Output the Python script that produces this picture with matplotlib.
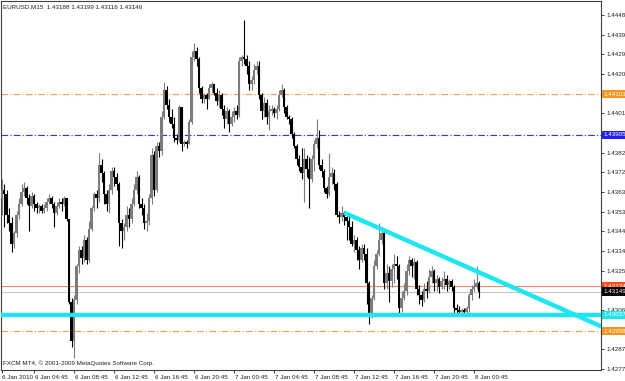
import numpy as np
import pandas as pd
import matplotlib
matplotlib.use("Agg")
import matplotlib.pyplot as plt
from matplotlib import transforms

# EURUSD M15 bars, 6 Jan 2010 01:30 -> 8 Jan 2010 01:15
opens = [
    1.4360, 1.4364, 1.4362, 1.4352, 1.4348, 1.4338, 1.4343, 1.4352, 1.4357, 1.4363,
    1.4365, 1.4360, 1.4356, 1.4361, 1.4357, 1.4355, 1.4356, 1.4354, 1.4355, 1.4358,
    1.4360, 1.4357, 1.4353, 1.4356, 1.4358, 1.4357, 1.4360, 1.4350, 1.4310, 1.4291,
    1.4311, 1.4327, 1.4335, 1.4331, 1.4340, 1.4330, 1.4345, 1.4355, 1.4362, 1.4360,
    1.4376, 1.4372, 1.4362, 1.4357, 1.4364, 1.4373, 1.4370, 1.4367, 1.4348, 1.4344,
    1.4346, 1.4352, 1.4350, 1.4357, 1.4364, 1.4370, 1.4357, 1.4355, 1.4348, 1.4349,
    1.4360, 1.4381, 1.4364, 1.4385, 1.4383, 1.4399, 1.4412, 1.4405, 1.4399, 1.4396,
    1.4389, 1.4388, 1.4404, 1.4386, 1.4387, 1.4386, 1.4397, 1.4428, 1.4431, 1.4427,
    1.4413, 1.4408, 1.4410, 1.4408, 1.4413, 1.4415, 1.4411, 1.4407, 1.4410, 1.4403,
    1.4398, 1.4402, 1.4396, 1.4399, 1.4402, 1.4400, 1.4426, 1.4428, 1.4427, 1.4424,
    1.4415, 1.4417, 1.4422, 1.4424, 1.4410, 1.4402, 1.4406, 1.4399, 1.4402, 1.4403,
    1.4401, 1.4403, 1.4410, 1.4412, 1.4404, 1.4399, 1.4398, 1.4391, 1.4385, 1.4379,
    1.4375, 1.4372, 1.4379, 1.4374, 1.4369, 1.4379, 1.4386, 1.4389, 1.4376, 1.4373,
    1.4365, 1.4362, 1.4370, 1.4372, 1.4367, 1.4352, 1.4351, 1.4353, 1.4351, 1.4349,
    1.4346, 1.4338, 1.4340, 1.4335, 1.4330, 1.4336, 1.4333, 1.4319, 1.4304, 1.4312,
    1.4327, 1.4333, 1.4340, 1.4343, 1.4319, 1.4324, 1.4320, 1.4326, 1.4328, 1.4327,
    1.4307, 1.4312, 1.4315, 1.4325, 1.4330, 1.4327, 1.4329, 1.4316, 1.4313, 1.4311,
    1.4316, 1.4315, 1.4322, 1.4325, 1.4319, 1.4321, 1.4317, 1.4320, 1.4321, 1.4318,
    1.4320, 1.4317, 1.4307, 1.4306, 1.4305, 1.4306, 1.4305, 1.4307, 1.4313, 1.4316,
    1.4317, 1.43188,
]
highs = [
    1.4369, 1.4367, 1.4364, 1.4355, 1.4351, 1.4344, 1.4354, 1.4360, 1.4367, 1.4368,
    1.4366, 1.4362, 1.4363, 1.4362, 1.4358, 1.4357, 1.4357, 1.4357, 1.4360, 1.4362,
    1.4361, 1.4358, 1.4358, 1.4360, 1.4360, 1.4361, 1.4359, 1.4350, 1.4312, 1.4313,
    1.4328, 1.4337, 1.4337, 1.4342, 1.4341, 1.4349, 1.4356, 1.4363, 1.4364, 1.4382,
    1.4379, 1.4373, 1.4364, 1.4367, 1.4375, 1.4375, 1.4372, 1.4368, 1.4350, 1.4348,
    1.4356, 1.4355, 1.4360, 1.4367, 1.4373, 1.4371, 1.4360, 1.4357, 1.4353, 1.4362,
    1.4384, 1.4383, 1.4387, 1.4387, 1.4402, 1.4416, 1.4414, 1.4408, 1.4403, 1.4399,
    1.4391, 1.4405, 1.4404, 1.4388, 1.4388, 1.4398, 1.4431, 1.4435, 1.4433, 1.4428,
    1.4414, 1.4411, 1.4411, 1.4415, 1.4416, 1.4415, 1.4413, 1.4412, 1.4411, 1.4405,
    1.4404, 1.4403, 1.4402, 1.4404, 1.4405, 1.4428, 1.4429, 1.4446, 1.4429, 1.4426,
    1.4419, 1.4425, 1.4426, 1.4426, 1.4411, 1.4409, 1.4408, 1.4405, 1.4405, 1.4404,
    1.4405, 1.4412, 1.4415, 1.4413, 1.4405, 1.4400, 1.4399, 1.4392, 1.4386, 1.4381,
    1.4384, 1.4384, 1.4381, 1.4380, 1.4381, 1.4388, 1.4398, 1.4393, 1.4379, 1.4374,
    1.4366, 1.4382, 1.4375, 1.4374, 1.4368, 1.4354, 1.4356, 1.4354, 1.4353, 1.4352,
    1.4349, 1.4342, 1.4341, 1.4337, 1.4338, 1.4338, 1.4336, 1.4320, 1.4313, 1.4330,
    1.4335, 1.4348, 1.4346, 1.4344, 1.4328, 1.4327, 1.4328, 1.4333, 1.4332, 1.4328,
    1.4315, 1.4319, 1.4328, 1.4332, 1.4331, 1.4331, 1.4330, 1.4318, 1.4315, 1.4319,
    1.4320, 1.4326, 1.4327, 1.4326, 1.4323, 1.4322, 1.4322, 1.4325, 1.4323, 1.4321,
    1.4321, 1.4318, 1.4309, 1.4308, 1.4307, 1.4307, 1.4308, 1.4314, 1.4318, 1.4321,
    1.4327, 1.43199,
]
lows = [
    1.4352, 1.4346, 1.4348, 1.4344, 1.4334, 1.4336, 1.4341, 1.4350, 1.4356, 1.4361,
    1.4357, 1.4344, 1.4355, 1.4354, 1.4353, 1.4353, 1.4353, 1.4353, 1.4354, 1.4357,
    1.4355, 1.4346, 1.4352, 1.4355, 1.4354, 1.4356, 1.4349, 1.4309, 1.4288, 1.4283,
    1.4309, 1.4324, 1.4328, 1.4329, 1.4328, 1.4329, 1.4344, 1.4354, 1.4355, 1.4358,
    1.4368, 1.4357, 1.4354, 1.4353, 1.4362, 1.4366, 1.4364, 1.4337, 1.4336, 1.4340,
    1.4344, 1.4346, 1.4348, 1.4356, 1.4362, 1.4355, 1.4352, 1.4345, 1.4344, 1.4347,
    1.4357, 1.4361, 1.4363, 1.4380, 1.4381, 1.4398, 1.4403, 1.4397, 1.4394, 1.4387,
    1.4386, 1.4387, 1.4383, 1.4385, 1.4384, 1.4386, 1.4396, 1.4426, 1.4424, 1.4411,
    1.4406, 1.4406, 1.4403, 1.4408, 1.4411, 1.4410, 1.4405, 1.4404, 1.4400, 1.4394,
    1.4396, 1.4392, 1.4395, 1.4397, 1.4398, 1.4399, 1.4424, 1.4425, 1.4420, 1.4412,
    1.4412, 1.4415, 1.4420, 1.4408, 1.4398, 1.4399, 1.4396, 1.4393, 1.4400, 1.4399,
    1.4398, 1.4402, 1.4409, 1.4401, 1.4398, 1.4396, 1.4389, 1.4384, 1.4376, 1.4373,
    1.4369, 1.4358, 1.4370, 1.4355, 1.4368, 1.4373, 1.4384, 1.4374, 1.4370, 1.4363,
    1.4360, 1.4361, 1.4367, 1.4364, 1.4351, 1.4348, 1.4349, 1.4347, 1.4340, 1.4340,
    1.4337, 1.4334, 1.4330, 1.4326, 1.4329, 1.4330, 1.4309, 1.4299, 1.4302, 1.4311,
    1.4326, 1.4332, 1.4338, 1.4316, 1.4316, 1.4310, 1.4317, 1.4319, 1.4321, 1.4304,
    1.4305, 1.4311, 1.4313, 1.4323, 1.4322, 1.4321, 1.4313, 1.4309, 1.4308, 1.4310,
    1.4312, 1.4314, 1.4319, 1.4315, 1.4315, 1.4314, 1.4316, 1.4316, 1.4315, 1.4316,
    1.4315, 1.4304, 1.4304, 1.4304, 1.4304, 1.4304, 1.4304, 1.4305, 1.4311, 1.4315,
    1.4316, 1.43116,
]
closes = [
    1.4364, 1.4362, 1.4352, 1.4348, 1.4338, 1.4343, 1.4352, 1.4357, 1.4363, 1.4365,
    1.4360, 1.4356, 1.4361, 1.4357, 1.4355, 1.4356, 1.4354, 1.4355, 1.4358, 1.4360,
    1.4357, 1.4353, 1.4356, 1.4358, 1.4357, 1.4360, 1.4350, 1.4310, 1.4291, 1.4311,
    1.4327, 1.4335, 1.4331, 1.4340, 1.4330, 1.4345, 1.4355, 1.4362, 1.4360, 1.4376,
    1.4372, 1.4362, 1.4357, 1.4364, 1.4373, 1.4370, 1.4367, 1.4348, 1.4344, 1.4346,
    1.4352, 1.4350, 1.4357, 1.4364, 1.4370, 1.4357, 1.4355, 1.4348, 1.4349, 1.4360,
    1.4381, 1.4364, 1.4385, 1.4383, 1.4399, 1.4412, 1.4405, 1.4399, 1.4396, 1.4389,
    1.4388, 1.4404, 1.4386, 1.4387, 1.4386, 1.4397, 1.4428, 1.4431, 1.4427, 1.4413,
    1.4408, 1.4410, 1.4408, 1.4413, 1.4415, 1.4411, 1.4407, 1.4410, 1.4403, 1.4398,
    1.4402, 1.4396, 1.4399, 1.4402, 1.4400, 1.4426, 1.4428, 1.4427, 1.4424, 1.4415,
    1.4417, 1.4422, 1.4424, 1.4410, 1.4402, 1.4406, 1.4399, 1.4402, 1.4403, 1.4401,
    1.4403, 1.4410, 1.4412, 1.4404, 1.4399, 1.4398, 1.4391, 1.4385, 1.4379, 1.4375,
    1.4372, 1.4379, 1.4374, 1.4369, 1.4379, 1.4386, 1.4389, 1.4376, 1.4373, 1.4365,
    1.4362, 1.4370, 1.4372, 1.4367, 1.4352, 1.4351, 1.4353, 1.4351, 1.4349, 1.4346,
    1.4338, 1.4340, 1.4335, 1.4330, 1.4336, 1.4333, 1.4319, 1.4304, 1.4312, 1.4327,
    1.4333, 1.4340, 1.4343, 1.4319, 1.4324, 1.4320, 1.4326, 1.4328, 1.4327, 1.4307,
    1.4312, 1.4315, 1.4325, 1.4330, 1.4327, 1.4329, 1.4316, 1.4313, 1.4311, 1.4316,
    1.4315, 1.4322, 1.4325, 1.4319, 1.4321, 1.4317, 1.4320, 1.4321, 1.4318, 1.4320,
    1.4317, 1.4307, 1.4306, 1.4305, 1.4306, 1.4305, 1.4307, 1.4313, 1.4316, 1.4317,
    1.43188, 1.43149,
]

first_bar = "2010-01-06 01:30"
tick_times = ["2010-01-06 01:30", "2010-01-06 04:45", "2010-01-06 08:45", "2010-01-06 12:45",
              "2010-01-06 16:45", "2010-01-06 20:45", "2010-01-07 00:45", "2010-01-07 04:45",
              "2010-01-07 08:45", "2010-01-07 12:45", "2010-01-07 16:45", "2010-01-07 20:45",
              "2010-01-08 00:45"]
tick_labels = ["6 Jan 2010", "6 Jan 04:45", "6 Jan 08:45", "6 Jan 12:45", "6 Jan 16:45",
               "6 Jan 20:45", "7 Jan 00:45", "7 Jan 04:45", "7 Jan 08:45", "7 Jan 12:45",
               "7 Jan 16:45", "7 Jan 20:45", "8 Jan 00:45"]

price_ticks = [1.44485, 1.44390, 1.44295, 1.44200, 1.44105, 1.44010, 1.43915, 1.43820,
               1.43725, 1.43630, 1.43535, 1.43440, 1.43345, 1.43250, 1.43155, 1.43060,
               1.42965, 1.42870, 1.42775]

# horizontal levels drawn on the chart
upper_orange = 1.44101
blue_level = 1.43905
red_level = 1.43174
bid = 1.43149
support = 1.43037
lower_orange = 1.42958
# trendline anchors (bar time, price)
trend_times = ["2010-01-07 11:45", "2010-01-08 13:30"]
trend_prices = [1.4353, 1.4298]

plt.rcParams['font.family'] = ['Liberation Sans Narrow', 'Liberation Sans', 'DejaVu Sans']
FS = 4.5

W, H = 625, 381
fig = plt.figure(figsize=(W / 100, H / 100), dpi=100)
ax = fig.add_axes([1 / W, 11 / H, 600 / W, 369 / H])

o = np.array(opens)
hi = np.array(highs)
lo = np.array(lows)
c = np.array(closes)
times = pd.date_range(first_bar, periods=len(c), freq="15min")
x = np.arange(len(c))
up = c >= o

body_col = np.where(up, "#7c7c7c", "#000000")
ax.vlines(x, np.minimum(lo, np.minimum(o, c)), np.maximum(hi, np.maximum(o, c)),
          colors=body_col, lw=0.8, zorder=3)
ax.bar(x, np.maximum(np.abs(c - o), 0.00005), bottom=np.minimum(o, c), width=0.9,
       color=body_col, lw=0, zorder=3)

dashdot = (0, (6, 2, 1, 2))
ax.axhline(upper_orange, color="#f2a04e", lw=0.8, ls=dashdot, zorder=2)
ax.axhline(blue_level, color="#2436ff", lw=0.8, ls=dashdot, zorder=2)
ax.axhline(red_level, color="#f7896a", lw=0.8, zorder=2)
ax.axhline(bid, color="#c8c8c8", lw=0.8, zorder=2)
ax.axhline(support, color="#1ee6f0", lw=3.2, zorder=4)
ax.axhline(lower_orange, color="#f2a04e", lw=0.8, ls=dashdot, zorder=2)

t_idx = [(pd.Timestamp(t) - times[0]) / pd.Timedelta("15min") for t in trend_times]
ax.plot(t_idx, trend_prices, color="#1ee6f0", lw=3.2, solid_capstyle="butt", zorder=4)

ax.set_xlim(-0.2, 239.8)
ax.set_ylim(1.42770, 1.44552)

# axes styling
for s in ax.spines.values():
    s.set_color("#404040")
    s.set_linewidth(0.8)
ax.yaxis.tick_right()
ax.set_yticks(price_ticks)
ax.set_yticklabels([f"{v:.5f}" for v in price_ticks])
ax.tick_params(axis="y", direction="out", length=2.5, width=0.6, pad=1.5,
               labelsize=FS, colors="#202020")
tick_pos = [times.get_loc(pd.Timestamp(t)) for t in tick_times]
ax.set_xticks(tick_pos)
ax.set_xticklabels(tick_labels, ha="left")
ax.tick_params(axis="x", direction="out", length=2.5, width=0.6, pad=1.0,
               labelsize=FS, colors="#202020")
off = transforms.ScaledTranslation(1.0 / 100, 0, fig.dpi_scale_trans)
for lab in ax.get_xticklabels():
    lab.set_transform(lab.get_transform() + off)

# price boxes on the right scale
blend = transforms.blended_transform_factory(ax.transAxes, ax.transData)
boxes = [(upper_orange, "#f7941d", "white"), (blue_level, "#2020ff", "white"),
         (red_level, "#ff4a1a", "white"), (bid, "#000000", "white"),
         (support, "#1ee6f0", "white"), (lower_orange, "#f7941d", "white")]
for lvl, fc, tc in boxes:
    ax.text(1.004, lvl, f"{lvl:.5f}", transform=blend, ha="left", va="center",
            fontsize=FS, color=tc, clip_on=False, zorder=6,
            bbox=dict(boxstyle="square,pad=0.25", fc=fc, ec="none"))

fig.text(3 / W, 1 - 7 / H, "EURUSD,M15  1.43188 1.43199 1.43116 1.43149",
         fontsize=FS, va="center", ha="left", color="#202020")
fig.text(3 / W, 1 - 363 / H, "FXCM MT4, \u00a9 2001-2009 MetaQuotes Software Corp.",
         fontsize=FS, va="center", ha="left", color="#202020")

fig.savefig("out.png", dpi=100)
